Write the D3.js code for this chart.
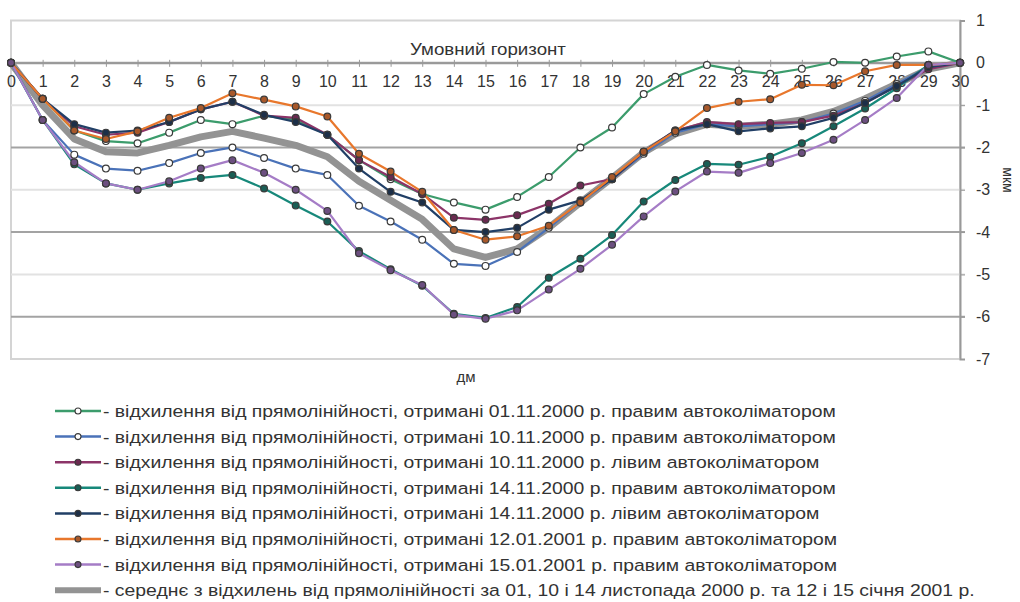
<!DOCTYPE html>
<html>
<head>
<meta charset="utf-8">
<script src="https://cdn.jsdelivr.net/npm/d3@7"></script>
<style>
  body { margin: 0; background: #fff; }
  svg text { font-family: "Liberation Sans", Arial, sans-serif; fill: #333; }
</style>
</head>
<body>
<svg id="chart"></svg>
<script>
// positions along the guide, dm
var points = d3.range(0, 31);

var yTicks = [1, 0, -1, -2, -3, -4, -5, -6, -7];

// deviations, micrometres
var green01 = [0,-0.85,-1.6,-1.85,-1.9,-1.65,-1.35,-1.45,-1.25,-1.35,-1.7,-2.3,-2.75,-3.1,-3.3,-3.47,-3.17,-2.7,-2.0,-1.53,-0.74,-0.33,-0.05,-0.18,-0.26,-0.14,0.02,0.0,0.15,0.27,0];
var blue10r = [0,-1.35,-2.17,-2.5,-2.55,-2.37,-2.13,-2.0,-2.25,-2.5,-2.65,-3.38,-3.75,-4.18,-4.75,-4.8,-4.47,-3.9,-3.3,-2.75,-2.15,-1.65,-1.45,-1.5,-1.45,-1.4,-1.2,-0.9,-0.5,-0.1,0];
var purple10l = [0,-0.85,-1.5,-1.7,-1.65,-1.4,-1.1,-0.92,-1.25,-1.3,-1.7,-2.3,-2.7,-3.1,-3.66,-3.71,-3.6,-3.33,-2.9,-2.75,-2.1,-1.6,-1.4,-1.45,-1.42,-1.4,-1.25,-0.95,-0.55,-0.15,0];
var teal14r = [0,-1.35,-2.4,-2.85,-3.0,-2.85,-2.72,-2.65,-2.97,-3.37,-3.75,-4.45,-4.88,-5.27,-5.93,-6.03,-5.77,-5.08,-4.63,-4.07,-3.28,-2.77,-2.39,-2.41,-2.22,-1.9,-1.5,-1.08,-0.6,-0.05,0];
var navy14l = [0,-0.85,-1.45,-1.65,-1.6,-1.4,-1.1,-0.92,-1.23,-1.4,-1.7,-2.5,-3.05,-3.3,-3.95,-4.0,-3.9,-3.47,-3.25,-2.75,-2.1,-1.6,-1.45,-1.62,-1.55,-1.5,-1.3,-0.95,-0.55,-0.1,0];
var orange12 = [0,-0.85,-1.6,-1.8,-1.62,-1.3,-1.07,-0.72,-0.87,-1.03,-1.27,-2.15,-2.57,-3.05,-3.95,-4.18,-4.1,-3.85,-3.3,-2.7,-2.1,-1.62,-1.07,-0.92,-0.86,-0.52,-0.53,-0.2,-0.05,-0.05,0];
var lilac15 = [0,-1.35,-2.35,-2.85,-3.0,-2.8,-2.5,-2.3,-2.6,-3.0,-3.5,-4.5,-4.9,-5.25,-5.95,-6.05,-5.85,-5.36,-4.87,-4.3,-3.63,-3.04,-2.57,-2.6,-2.37,-2.13,-1.82,-1.35,-0.83,-0.05,0];
var average = [0,-1.0,-1.8,-2.1,-2.13,-1.95,-1.75,-1.62,-1.78,-1.95,-2.22,-2.8,-3.25,-3.7,-4.4,-4.6,-4.4,-3.9,-3.3,-2.72,-2.12,-1.68,-1.45,-1.5,-1.45,-1.35,-1.15,-0.85,-0.5,-0.15,0];

var seriesNames = [
  "- відхилення від прямолінійності, отримані 01.11.2000 р. правим автоколіматором",
  "- відхилення від прямолінійності, отримані 10.11.2000 р. правим автоколіматором",
  "- відхилення від прямолінійності, отримані 10.11.2000 р. лівим автоколіматором",
  "- відхилення від прямолінійності, отримані 14.11.2000 р. правим автоколіматором",
  "- відхилення від прямолінійності, отримані 14.11.2000 р. лівим автоколіматором",
  "- відхилення від прямолінійності, отримані 12.01.2001 р. правим автоколіматором",
  "- відхилення від прямолінійності, отримані 15.01.2001 р. правим автоколіматором",
  "- середнє з відхилень від прямолінійності за 01, 10 і 14 листопада 2000 р. та 12 і 15 січня 2001 р."
];

var series = [
  {values: green01,   color: "#3c9c6c", fill: "#fff"},
  {values: blue10r,   color: "#4a72b8", fill: "#fff"},
  {values: purple10l, color: "#8c3468", fill: "#6a2a50"},
  {values: teal14r,   color: "#17887a", fill: "#1a5e55"},
  {values: navy14l,   color: "#213f66", fill: "#1c2f48"},
  {values: orange12,  color: "#e8772c", fill: "#a8582a"},
  {values: lilac15,   color: "#a57cc6", fill: "#6c4f80"},
  {values: average,   color: "#939393", fill: null, avg: true}
];

var svg = d3.select("#chart").attr("width", 1020).attr("height", 602);

var plot = {left: 11, right: 960, top: 20.5, bottom: 359};

var xScale = d3.scaleLinear().domain([0, 30]).range([plot.left, plot.right]);
var yScale = d3.scaleLinear().domain([-7, 1]).range([plot.bottom, plot.top]);

// frame
svg.append("rect")
  .attr("x", plot.left).attr("y", plot.top)
  .attr("width", plot.right - plot.left).attr("height", plot.bottom - plot.top)
  .attr("fill", "none").attr("stroke", "#d4d4d4").attr("stroke-width", 2);

// grid lines, even ones darker
svg.append("g").selectAll("line")
  .data(yTicks.filter(function(d){ return d < 1 && d > -7; }))
  .enter().append("line")
  .attr("x1", plot.left).attr("x2", plot.right + 5)
  .attr("y1", function(d){ return yScale(d); })
  .attr("y2", function(d){ return yScale(d); })
  .attr("stroke", function(d){ return d % 2 === 0 ? "#a3a3a3" : "#e2e2e2"; })
  .attr("stroke-width", 2);

// right axis
var yAxis = d3.axisRight(yScale).tickValues(yTicks)
  .tickFormat(function(d){ return String(d); })
  .tickSize(5).tickPadding(11);
var yg = svg.append("g").attr("transform", "translate(" + plot.right + ",0)").call(yAxis);
yg.select(".domain").attr("stroke", "#999").attr("stroke-width", 2);
yg.selectAll(".tick line").attr("stroke", "#999");
yg.selectAll("text").style("font-size", "16px").attr("fill", "#333");

// x axis along zero
var xAxis = d3.axisBottom(xScale).tickValues(points).tickSize(4).tickPadding(9)
  .tickFormat(function(d){ return String(d); });
var xg = svg.append("g").attr("transform", "translate(0," + yScale(0) + ")").call(xAxis);
xg.select(".domain").attr("stroke", "#999").attr("stroke-width", 2);
xg.selectAll(".tick line").attr("stroke", "#999").attr("y1", -3);
xg.selectAll("text").style("font-size", "16px").attr("fill", "#333");

var line = d3.line()
  .x(function(d, i){ return xScale(points[i]); })
  .y(function(d){ return yScale(d); });

// average first so the others lie on top of it
var order = [7, 0, 1, 2, 3, 4, 5, 6];
var lines = svg.append("g");
order.forEach(function(k){
  var s = series[k];
  lines.append("path")
    .attr("d", line(s.values))
    .attr("fill", "none")
    .attr("stroke", s.color)
    .attr("stroke-width", s.avg ? 7 : 2.2)
    .attr("stroke-linejoin", "round");
});
order.forEach(function(k){
  var s = series[k];
  if (s.avg) return;
  lines.append("g").selectAll("circle")
    .data(s.values)
    .enter().append("circle")
    .attr("cx", function(d, i){ return xScale(points[i]); })
    .attr("cy", function(d){ return yScale(d); })
    .attr("r", 3.4)
    .attr("fill", s.fill)
    .attr("stroke", "#3a3a3a")
    .attr("stroke-width", 1.2);
});

// titles
svg.append("text").text("Умовний горизонт")
  .attr("x", 488).attr("y", 55).attr("text-anchor", "middle")
  .style("font-size", "17px")
  .attr("transform", "scale(1.1,1)").attr("transform-origin", "488 0");
svg.append("text").text("дм")
  .attr("x", 466).attr("y", 382).attr("text-anchor", "middle")
  .style("font-size", "15px");
svg.append("text").text("мкм")
  .attr("text-anchor", "middle")
  .attr("transform", "translate(1003,180) rotate(90)")
  .style("font-size", "14px");

// legend
var legend = svg.append("g");
seriesNames.forEach(function(name, i){
  var s = series[i];
  var ly = 411 + i * 25.6;
  var row = legend.append("g").attr("transform", "translate(0," + ly + ")");
  row.append("line")
    .attr("x1", 55).attr("x2", 101).attr("y1", 0).attr("y2", 0)
    .attr("stroke", s.color).attr("stroke-width", s.avg ? 6 : 2.5);
  if (!s.avg) {
    row.append("circle").attr("cx", 78).attr("cy", 0).attr("r", 3)
      .attr("fill", s.fill).attr("stroke", "#3a3a3a").attr("stroke-width", 1.1);
  }
  row.append("text").text(name)
    .attr("x", 103).attr("y", 6)
    .style("font-size", "17px")
    .attr("transform", "scale(1.14,1)")
    .attr("transform-origin", "103 0");
});
</script>
</body>
</html>
